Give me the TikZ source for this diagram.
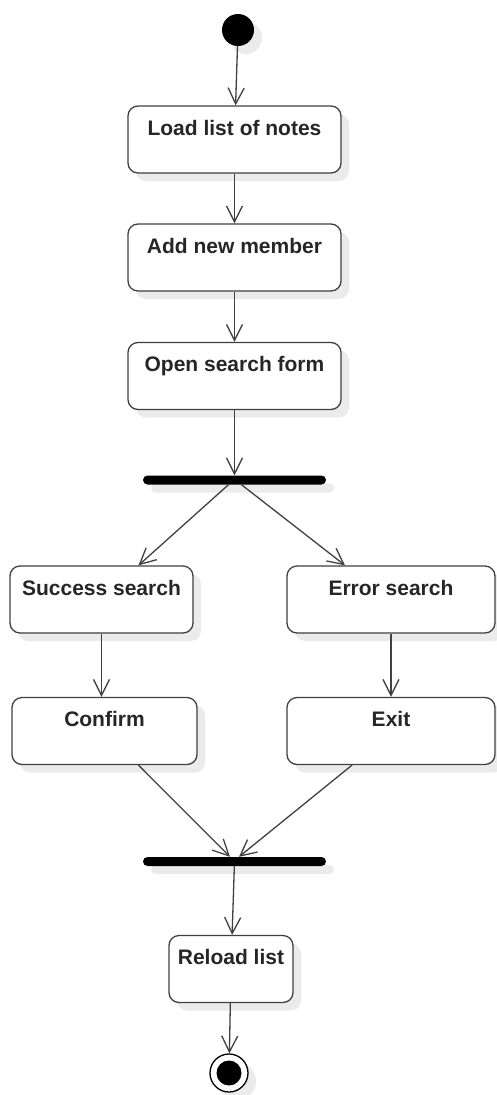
\documentclass[tikz,border=0pt]{standalone}
\usepackage{fontspec}
\setmainfont{Liberation Sans}
\usetikzlibrary{arrows.meta,shadows}

\tikzset{
  soft shadow/.style={drop shadow={shadow xshift=8pt,shadow yshift=-8pt,fill=black!8,opacity=1}},
  activity/.style={draw=black!75, line width=1.3pt, rounded corners=10pt, fill=white,
    soft shadow, inner sep=0pt, text height=29pt, text depth=38pt,
    font=\fontsize{21}{25}\selectfont\bfseries, text=black!85},
  syncbar/.style={fill=black, rounded corners=4.5pt, minimum width=183pt,
    minimum height=9pt, inner sep=0pt, soft shadow},
  flow/.style={draw=black!75, line width=1.3pt,
    -{Straight Barb[length=16pt,width=16pt,line width=1.3pt]}},
}

\begin{document}
\begin{tikzpicture}[x=1pt,y=-1pt]
  \useasboundingbox (0,0) rectangle (496,1095);

  % start and end states
  \node[circle, fill=black, minimum size=32pt, inner sep=0pt, soft shadow] (start) at (238,30) {};
  \node[circle, draw=black, line width=1.3pt, fill=white, minimum size=38pt, inner sep=0pt, soft shadow] (stop) at (229,1073) {};
  \fill (stop) circle (12.5pt);

  % activities
  \node[activity, minimum width=213pt] (load) at (234.5,139.5) {Load list of notes};
  \node[activity, minimum width=213pt] (add) at (234.5,257.5) {Add new member};
  \node[activity, minimum width=213pt] (open) at (234.5,376) {Open search form};
  \node[syncbar] (fork) at (234.5,480) {};
  \node[activity, minimum width=183pt] (success) at (101.5,599.5) {Success search};
  \node[activity, minimum width=208pt] (error) at (391,599.5) {Error search};
  \node[activity, minimum width=185pt] (confirm) at (104.5,731) {Confirm};
  \node[activity, minimum width=208pt] (exit) at (391,731) {Exit};
  \node[syncbar] (join) at (234.5,861.5) {};
  \node[activity, minimum width=124pt] (reload) at (231,969) {Reload list};

  % transitions
  \draw[flow] (start) -- (load);
  \draw[flow] (load) -- (add);
  \draw[flow] (add) -- (open);
  \draw[flow] (open) -- (fork);
  \draw[flow] ([xshift=-6pt]fork.south) -- ([xshift=37pt]success.north);
  \draw[flow] ([xshift=7pt]fork.south) -- ([xshift=-46pt]error.north);
  \draw[flow] (success) -- (confirm.north -| success);
  \draw[flow] (error) -- (exit);
  \draw[flow] ([xshift=34pt]confirm.south) -- ([xshift=-4.5pt]join.north);
  \draw[flow] ([xshift=-39pt]exit.south) -- ([xshift=4.5pt]join.north);
  \draw[flow] (join) -- (reload);
  \draw[flow] (reload) -- (stop);
\end{tikzpicture}
\end{document}
